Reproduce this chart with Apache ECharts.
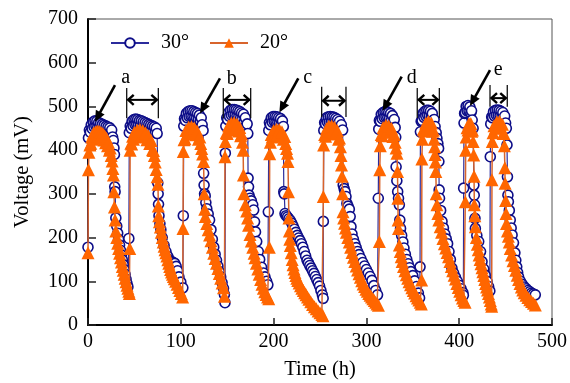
<!DOCTYPE html>
<html><head><meta charset="utf-8">
<script src="https://cdn.jsdelivr.net/npm/echarts/dist/echarts.min.js"></script>
<style>html,body{margin:0;padding:0;background:#fff}#c{width:570px;height:383px}</style>
</head><body><div id="c"></div><script>
// ---- data: [time (h), voltage (mV)], one array per cycle ----
const c30_1 = [[0,178],[0.5,428],[1.5,446],[2.5,441],[3.5,458],[4.5,449],[5.5,464],[6.5,453],[7.5,467],[8.5,455],[9.5,466],[10.5,453],[11.5,463],[12.5,450],[13.5,461],[14.5,448],[15.5,459],[16.5,446],[17.5,457],[18.5,444],[19.5,455],[20.5,442],[21.5,453],[22.5,440],[23.5,451],[24.5,437],[25.5,446],[26.5,430],[27.3,422],[28,405],[28.5,390],[28.8,316],[29.2,305],[30,245],[31,226],[32,210],[33,196],[34,183],[35,171],[36,160],[37,149],[38,138],[39,127],[40,116],[41,105],[42,95],[43,87]];
const c30_2 = [[44,198],[44.5,440],[45.5,455],[46.5,450],[47.5,466],[48.5,456],[49.5,470],[50.5,459],[51.5,471],[52.5,459],[53.5,470],[54.5,458],[55.5,468],[56.5,456],[57.5,467],[58.5,454],[59.5,465],[60.5,452],[61.5,463],[62.5,450],[63.5,461],[64.5,448],[65.5,459],[66.5,447],[67.5,457],[68.5,445],[69.5,455],[70.5,443],[71.5,453],[72.5,441],[73.5,450],[74.5,438],[75.2,325],[75.6,300],[76,276],[76.5,250],[77.5,232],[78.5,218],[80,200],[82,182],[84,168],[86,157],[88,149],[90,145],[92,143],[93.5,141],[95,134],[96.5,124],[98,110],[100,98],[102.2,85]];
const c30_3 = [[102.7,250],[103.2,455],[104,472],[105,468],[106,484],[107,474],[108,488],[109,477],[110,490],[111,478],[112,490],[113,477],[114,488],[115,475],[116,486],[117,473],[118,484],[119,470],[120,480],[121,466],[122,474],[123,458],[124,445],[124.6,347],[125.1,320],[125.6,300],[126.3,295],[127,280],[128,266],[129.5,254],[131,240],[132.5,218],[134,196],[135.5,178],[137,162],[138.5,148],[140,135],[141.5,122],[143,110],[144.5,97],[146,84],[147,70],[147.6,51]];
const c30_4 = [[148,393],[148.5,455],[149.5,474],[150.5,470],[151.5,486],[152.5,477],[153.5,491],[154.5,480],[155.5,493],[156.5,482],[157.5,493],[158.5,481],[159.5,492],[160.5,479],[161.5,490],[162.5,477],[163.5,488],[164.5,474],[165.5,485],[166.5,471],[167.5,482],[168.5,465],[169.5,474],[170.5,456],[171.5,460],[172.2,438],[172.5,336],[173,316],[173.5,297],[174.6,290],[176,284],[177.5,275],[178.5,263],[179.5,236],[180.5,213],[181.8,191],[183.5,168],[185,150],[187,132],[189,119],[190.7,110],[192.5,100],[193.8,92]];
const c30_5 = [[194.3,259],[194.8,445],[195.5,463],[196.5,458],[197.5,474],[198.5,464],[199.5,477],[200.5,466],[201.5,477],[202.5,465],[203.5,476],[204.5,464],[205.5,474],[206.5,462],[207.5,472],[208.5,459],[209.5,467],[210.5,454],[211,305],[211.5,300],[212.3,255],[213.5,250],[215,247],[216.5,243],[218,239],[219.5,233],[221,226],[222.5,219],[224,212],[225.5,205],[227,199],[228.5,193],[230,186],[231.5,178],[233,168],[234.5,158],[236,148],[237.5,142],[239,136],[240.5,130],[242,124],[243.5,118],[245,111],[246.5,104],[248,97],[249.5,89],[251,79],[252.5,69],[253.4,61]];
const c30_6 = [[253.6,237],[254.1,445],[255,463],[256,460],[257,474],[258,464],[259,476],[260,465],[261,477],[262,465],[263,476],[264,464],[265,475],[266,462],[267,473],[268,460],[269,470],[270,456],[271,466],[272,450],[273,458],[274.4,446],[275,320],[276,312],[277,305],[278,294],[279,278],[280.2,272],[281.6,265],[282.5,248],[283.4,225],[284.5,208],[286,196],[287.5,186],[289,177],[290.5,168],[292,161],[294,152],[296,143],[298,135],[300,127],[302,119],[304,111],[306,102],[308,90],[310,79],[312,69]];
const c30_7 = [[312.8,290],[313.3,448],[314,468],[315,466],[316,482],[317,472],[318,486],[319,475],[320,488],[321,476],[322,488],[323,475],[324,486],[325,473],[326,484],[327,469],[328,479],[329,463],[330,470],[331,452],[331.6,430],[332,362],[332.8,330],[333.7,305],[334.6,290],[335.5,275],[336,240],[336.8,221],[338,205],[339.3,190],[340.5,176],[342,162],[343.5,150],[345,140],[346.5,131],[348,122],[350,113],[352,101],[354,88],[356,73],[357.3,62]];
const c30_8 = [[357.8,133],[358.2,442],[359,466],[360,468],[361,484],[362,475],[363,489],[364,478],[365,491],[366,480],[367,491],[368,478],[369,489],[370,475],[371,484],[372,468],[373,470],[374,454],[375.2,440],[376,427],[377,415],[377.8,404],[378.1,374],[378.4,309],[378.8,290],[380,262],[381.5,237],[383,222],[384.5,208],[386,197],[387.5,186],[389,168],[390.5,150],[392.2,130],[394,119],[396,109],[398,100],[400,91],[402,83],[404,74],[404.5,68]];
const c30_9 = [[404.8,313],[405.2,462],[405.8,484],[406.5,486],[407.5,500],[408.5,490],[409.5,502],[410.5,490],[411.5,499],[412.5,485],[413.3,490],[414,469],[415,450],[415.8,320],[416.2,297],[416.6,275],[417,244],[417.4,221],[419,205],[421,191],[423,168],[424.6,145],[426.5,128],[428,114],[430,100],[431.7,88],[433,78]];
const c30_10 = [[433.5,385],[434,460],[435,476],[436,474],[437,488],[438,478],[439,491],[440,480],[441,492],[442,480],[443,491],[444,479],[445,489],[446,477],[447,486],[448,472],[449,478],[450,462],[450.8,450],[451.5,412],[452,339],[452.5,297],[453,282],[454,262],[455,240],[456,222],[457,206],[458.5,188],[460,165],[461,148],[462,133],[463,120],[464,110],[466,100],[468,93],[470,87],[472,83],[474,79],[476,76],[478,73],[480,71],[482,69]];

const c20_1 = [[0,165],[0.5,355],[1,395],[2,412],[3,416],[4,430],[5,425],[6,439],[7,430],[8,442],[9,432],[10,444],[11,432],[12,443],[13,430],[14,441],[15,427],[16,438],[17,423],[18,433],[19,417],[20,427],[21,410],[22,418],[23,400],[24,405],[25,388],[26,375],[26.8,358],[27.4,343],[27.9,305],[28.5,270],[29.2,240],[30,215],[31,200],[32,187],[33,175],[34,164],[35,154],[36,144],[37,134],[38,125],[39,116],[40,107],[41,99],[42,91],[43,84],[44,77],[44.6,72]];
const c20_2 = [[45,175],[45.4,400],[46.2,416],[47,414],[48,432],[49,425],[50,441],[51.5,431],[53,446],[54.5,434],[56,447],[57.5,433],[59,445],[60.5,430],[62,440],[63.5,424],[65,433],[66.5,415],[68,422],[69.5,401],[70.5,399],[71.5,388],[72.5,373],[73.5,356],[74.5,339],[75.4,322],[75.8,272],[76.2,250],[77,236],[78,224],[79,212],[80,200],[81,190],[82,180],[83,172],[84,165],[85,158],[86,149],[87,141],[88,134],[89,127],[90,121],[91,116],[92,111],[93,106],[94.5,100],[96,93],[97.5,86],[99,79],[100.5,72],[102,64]];
const c20_3 = [[102.4,221],[102.7,397],[103.5,424],[104.5,426],[105.5,445],[107,437],[108.5,453],[110,441],[111.5,454],[113,440],[114.5,451],[116,435],[117.5,444],[119,425],[120.5,430],[121.5,415],[122.5,404],[123.5,391],[124.5,374],[125.2,300],[125.8,265],[126.5,248],[128,232],[129.5,218],[131,206],[132.5,193],[134,178],[135.5,164],[137,152],[138.5,141],[140,129],[141.5,118],[143,107],[144.5,96],[146,85],[147,66]];
const c20_4 = [[147.6,385],[148,420],[149,440],[150,438],[151.5,456],[153,447],[154.5,462],[156,450],[157.5,463],[159,449],[160.5,460],[162,444],[163.5,452],[164.5,433],[165.5,437],[166.5,418],[167.2,400],[167.5,343],[168,300],[169.5,275],[171,261],[172,245],[173,228],[174.6,207],[176,192],[177.5,178],[179,164],[180,154],[181.5,141],[183,128],[184.5,116],[186,104],[187.5,93],[189,84],[190.5,76],[192,70],[193.5,64],[194.8,60]];
const c20_5 = [[195.4,178],[195.8,392],[196.5,418],[197.5,436],[198.5,430],[200,445],[201.5,434],[203,448],[204.5,435],[206,447],[207.5,432],[209,442],[210.5,425],[212,431],[213,415],[214,404],[215,393],[215.5,374],[216,305],[216.5,245],[217,215],[217.5,196],[218,182],[219,165],[220,150],[221,138],[222,128],[223,120],[224,113],[225,107],[226,102],[227.5,96],[229,90],[230.5,84],[232,79],[233.5,74],[235,69],[236.5,64],[238,59],[240,53],[242,47],[244,42],[246,37],[248,32],[250,28],[252,24],[253.2,21]];
const c20_6 = [[253.6,294],[253.9,412],[255,436],[256,432],[257,449],[258,439],[259.5,455],[261,443],[262.5,456],[264,442],[265.5,453],[267,437],[268.5,445],[270,425],[271,428],[272,408],[272.6,388],[273.2,366],[273.8,340],[274.4,300],[274.8,259],[275.5,245],[276.5,233],[277.5,222],[278.5,212],[280,200],[281.6,190],[283,178],[284.5,166],[286,155],[287.5,145],[289,135],[290.5,126],[292,117],[293.5,109],[295,101],[296.5,94],[298,88],[299.5,82],[301,77],[302.5,72],[304,68],[305.5,64],[307,60],[308.5,56],[310,52],[311.5,48],[313,45]];
const c20_7 = [[314,191],[314.4,355],[315,410],[316,436],[317,433],[318,452],[319.5,442],[321,457],[322.5,444],[324,456],[325.5,441],[327,450],[328.5,431],[330,436],[331,418],[332,405],[333,393],[333.5,351],[333.9,290],[334.2,240],[334.6,221],[335.5,183],[336.5,168],[337.5,156],[338.5,145],[340,134],[341.5,124],[343,115],[344.5,107],[346,99],[347.5,92],[349,85],[350.5,79],[352,73],[353.5,67],[355,62],[356.5,57],[358,52],[359.2,48]];
const c20_8 = [[359.5,103],[359.8,380],[360.3,425],[361.3,448],[362.5,444],[364,462],[365.5,452],[367,466],[368.5,452],[370,462],[371.2,443],[372.2,446],[373,425],[373.6,408],[374,390],[374.4,373],[374.8,351],[375.3,300],[376,275],[377,255],[378,240],[379.5,225],[381,212],[382.5,198],[384,186],[385.5,176],[387,166],[388.5,156],[390,145],[391.5,134],[393,124],[394.5,114],[396,105],[397.5,95],[399,86],[400.5,77],[402,69],[403.5,62],[405,56],[406.3,52]];
const c20_9 = [[406.6,282],[407,400],[407.5,430],[408.5,451],[409.5,446],[410.5,461],[411.5,449],[412.5,461],[413.5,443],[414.3,446],[415,420],[415.6,389],[416,340],[416.3,275],[416.8,250],[417.4,225],[418.5,200],[419.5,185],[420.5,172],[421.5,160],[422.5,150],[423.5,140],[424.6,131],[425.5,122],[426.5,113],[427.5,104],[428.5,95],[429.5,87],[430.5,80],[431.5,72],[432.5,64],[433.5,56],[434.5,48],[435,43]];
const c20_10 = [[435.3,332],[435.7,420],[436.5,440],[437.5,456],[439,450],[440.5,465],[442,453],[443.5,466],[445,451],[446.5,459],[447.5,438],[448.2,438],[448.7,410],[449.2,360],[449.5,324],[450,285],[450.5,255],[451,232],[452,215],[453,203],[454,190],[455,175],[456.5,160],[458,147],[459.5,136],[461,125],[462.5,114],[464,104],[465.5,95],[467,87],[468.5,80],[470,74],[472,68],[474,63],[476,58],[478,54],[480,50],[482,46]];

const seriesNames = ['30°', '20°'];
const xTicks = [0, 100, 200, 300, 400, 500];
const yTicks = [0, 100, 200, 300, 400, 500, 600, 700];

// annotation positions (data coordinates)
const pointers = [
  {label:'a', from:[29.1,549], to:[7.5,465], text:[40.6,565]},
  {label:'b', from:[142.2,564], to:[120.7,484], text:[154.8,564]},
  {label:'c', from:[226.6,564], to:[206.2,486], text:[236.7,565]},
  {label:'d', from:[338,568], to:[317.5,490], text:[348.8,566]},
  {label:'e', from:[433.2,583], to:[411.6,501], text:[442.1,584]}
];
const spans = [
  {x1:41.7, x2:75.8, y:515, top:542, bot:473},
  {x1:145.8, x2:175.3, y:515, top:542, bot:473},
  {x1:251.8, x2:278, y:513, top:545, bot:476},
  {x1:354.8, x2:378.6, y:515, top:542, bot:473},
  {x1:433.2, x2:451.8, y:519, top:549, bot:499}
];

const data30 = [].concat(c30_1,c30_2,c30_3,c30_4,c30_5,c30_6,c30_7,c30_8,c30_9,c30_10);
const data20 = [].concat(c20_1,c20_2,c20_3,c20_4,c20_5,c20_6,c20_7,c20_8,c20_9,c20_10);

const FONT = 'Liberation Serif';
const serifText = {fontFamily: FONT, fontSize: 20, color: '#000', fontWeight: 'normal'};
const chart = echarts.init(document.getElementById('c'), null, {renderer:'canvas'});
chart.setOption({
  animation: false,
  backgroundColor: '#fff',
  textStyle: {fontFamily: FONT},
  grid: {left:88, right:18, top:19, bottom:58, show:true, borderColor:'#555', borderWidth:1, outerBoundsMode:'none', containLabel:false},
  legend: {
    left: 105, top: 28, itemWidth: 38, itemHeight: 12, itemGap: 20,
    formatter: (n) => '{t|' + n + '}',
    textStyle: {fontFamily: FONT, fontSize: 20, color: '#000', rich: {t: Object.assign({padding:[0,0,0,7]}, serifText)}},
    data: seriesNames
  },
  xAxis: {
    type:'value', min: xTicks[0], max: xTicks[xTicks.length-1], interval: 100,
    name: 'Time (h)', nameLocation:'middle', nameGap: 34,
    nameTextStyle: {fontFamily: FONT, fontSize: 20.5, color:'#000'},
    axisLine: {onZero:false, lineStyle:{color:'#000', width:2}},
    axisTick: {inside:true, length:7, lineStyle:{color:'#222', width:1.5}},
    axisLabel: {fontFamily: FONT, fontSize: 20, color:'#000', margin: 7, showMinLabel:true, showMaxLabel:true,
      formatter: '{t|{value}}', rich: {t: serifText}},
    splitLine: {show:false}
  },
  yAxis: {
    type:'value', min: yTicks[0], max: yTicks[yTicks.length-1], interval: 100,
    name: 'Voltage (mV)', nameLocation:'middle', nameGap: 55,
    nameTextStyle: {fontFamily: FONT, fontSize: 20.5, color:'#000'},
    axisLine: {onZero:false, lineStyle:{color:'#000', width:2}},
    axisTick: {inside:true, length:8, lineStyle:{color:'#222', width:1.5}},
    axisLabel: {fontFamily: FONT, fontSize: 20, color:'#000', margin: 10, showMinLabel:true, showMaxLabel:true,
      formatter: '{t|{value}}', rich: {t: serifText}},
    splitLine: {show:false}
  },
  series: [
    {
      name: seriesNames[0], type:'line', data: data30,
      symbol:'circle', symbolSize: 10, showAllSymbol: true,
      itemStyle: {color:'#fff', borderColor:'#0d0d88', borderWidth:1.6},
      lineStyle: {color:'#2b2b9c', width:1.2},
      z: 2
    },
    {
      name: seriesNames[1], type:'line', data: data20,
      symbol:'triangle', symbolSize: 13, showAllSymbol: true,
      itemStyle: {color:'#ff6600', borderWidth:0},
      lineStyle: {color:'#d8642c', width:1.5},
      z: 3
    }
  ]
});

const P = (p) => chart.convertToPixel({gridIndex:0}, p);
const els = [];
pointers.forEach(a => {
  const f = P(a.from), t = P(a.to);
  const dx = t[0]-f[0], dy = t[1]-f[1], L = Math.hypot(dx,dy), ux = dx/L, uy = dy/L;
  const hl = 11, hw = 5;
  const bx = t[0]-ux*hl, by = t[1]-uy*hl;
  els.push({type:'line', z:100, shape:{x1:f[0], y1:f[1], x2:bx+ux*2, y2:by+uy*2}, style:{stroke:'#000', lineWidth:2.6}});
  els.push({type:'polygon', z:100, shape:{points:[[t[0],t[1]],[bx-uy*hw, by+ux*hw],[bx+uy*hw, by-ux*hw]]}, style:{fill:'#000'}});
  const tp = P(a.text);
  els.push({type:'text', z:100, x:tp[0], y:tp[1], style:{text:a.label, font:'20px "Liberation Serif"', fill:'#000', align:'center', verticalAlign:'middle'}});
});
spans.forEach(s => {
  const a = P([s.x1, s.y]), b = P([s.x2, s.y]);
  const tp = P([s.x1, s.top])[1], bt = P([s.x1, s.bot])[1];
  els.push({type:'line', z:100, shape:{x1:a[0], y1:tp, x2:a[0], y2:bt}, style:{stroke:'#111', lineWidth:1.3}});
  els.push({type:'line', z:100, shape:{x1:b[0], y1:tp, x2:b[0], y2:bt}, style:{stroke:'#111', lineWidth:1.3}});
  els.push({type:'line', z:100, shape:{x1:a[0]+1, y1:a[1], x2:b[0]-1, y2:b[1]}, style:{stroke:'#000', lineWidth:2}});
  els.push({type:'polyline', z:100, shape:{points:[[a[0]+7,a[1]-5],[a[0]+1.5,a[1]],[a[0]+7,a[1]+5]]}, style:{stroke:'#000', lineWidth:2.4, fill:null}});
  els.push({type:'polyline', z:100, shape:{points:[[b[0]-7,b[1]-5],[b[0]-1.5,b[1]],[b[0]-7,b[1]+5]]}, style:{stroke:'#000', lineWidth:2.4, fill:null}});
});
chart.setOption({graphic: {elements: els}});
</script></body></html>
